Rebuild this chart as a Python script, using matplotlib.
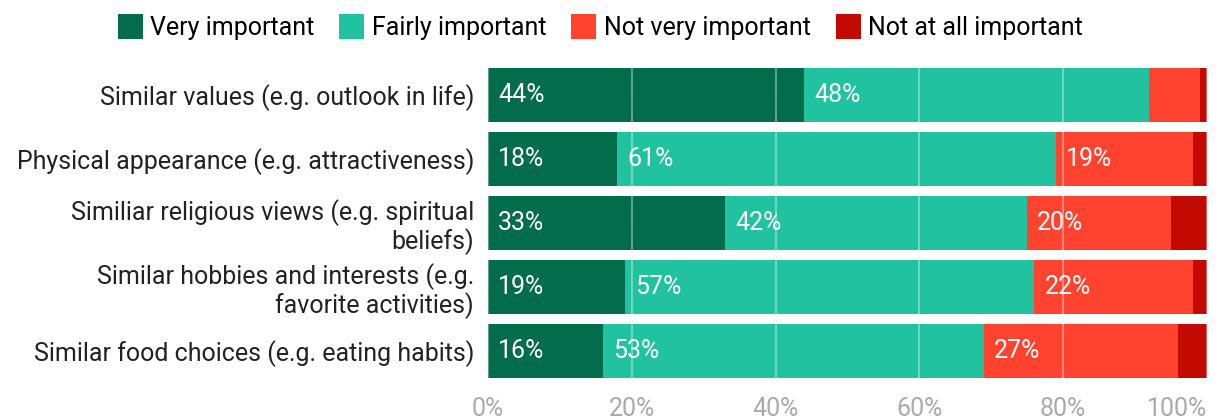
import numpy as np
import matplotlib.pyplot as plt

plt.rcParams['font.family'] = ['Roboto', 'DejaVu Sans']

categories = ['Similar values (e.g. outlook in life)',
              'Physical appearance (e.g. attractiveness)',
              'Similiar religious views (e.g. spiritual\nbeliefs)',
              'Similar hobbies and interests (e.g.\nfavorite activities)',
              'Similar food choices (e.g. eating habits)']
series = ['Very important', 'Fairly important', 'Not very important', 'Not at all important']
very = [44, 18, 33, 19, 16]
fairly = [48, 61, 42, 57, 53]
not_very = [7, 19, 20, 22, 27]
not_at_all = [1, 2, 5, 2, 4]
colors = ['#036c4a', '#21c29f', '#ff432e', '#c30a02']
ticks = [0, 20, 40, 60, 80, 100]

fig = plt.figure(figsize=(12.2, 4.2), dpi=100)
ax = fig.add_axes([0.4, 0.088, 0.5893, 0.762])

y = np.arange(len(categories))
left = np.zeros(len(categories))
for name, vals, col in zip(series, [very, fairly, not_very, not_at_all], colors):
    vals = np.array(vals, dtype=float)
    ax.barh(y, vals, left=left, height=0.84, color=col, label=name, zorder=1)
    for yi, l, v in zip(y, left, vals):
        if v >= 10:
            ax.text(l + 1.4, yi, f'{int(v)}%', color='white', fontsize=18,
                    va='center', ha='left', zorder=3)
    left += vals

for t in ticks:
    ax.axvline(t, color='white', alpha=0.4, lw=1.3, zorder=2)

ax.set_xlim(0, 100)
ax.set_ylim(len(categories) - 0.5, -0.5)
ax.set_yticks(y)
ax.set_yticklabels(categories, fontsize=18, color='#222222', ha='right',
                   linespacing=1.1)
ax.set_xticks(ticks)
xlabels = ax.set_xticklabels([f'{t}%' for t in ticks], fontsize=18, color='#aaaaaa')
xlabels[-1].set_ha('right')  # keep 100% inside the figure
ax.tick_params(axis='both', length=0)
ax.tick_params(axis='x', pad=10)
ax.tick_params(axis='y', pad=10)
for s in ax.spines.values():
    s.set_visible(False)

fig.legend(loc='upper center', bbox_to_anchor=(0.492, 1.02), ncol=4, frameon=False,
           fontsize=18, handlelength=1.0, handleheight=1.15, handletextpad=0.3,
           columnspacing=1.0)

plt.savefig('out.png', dpi=100)
